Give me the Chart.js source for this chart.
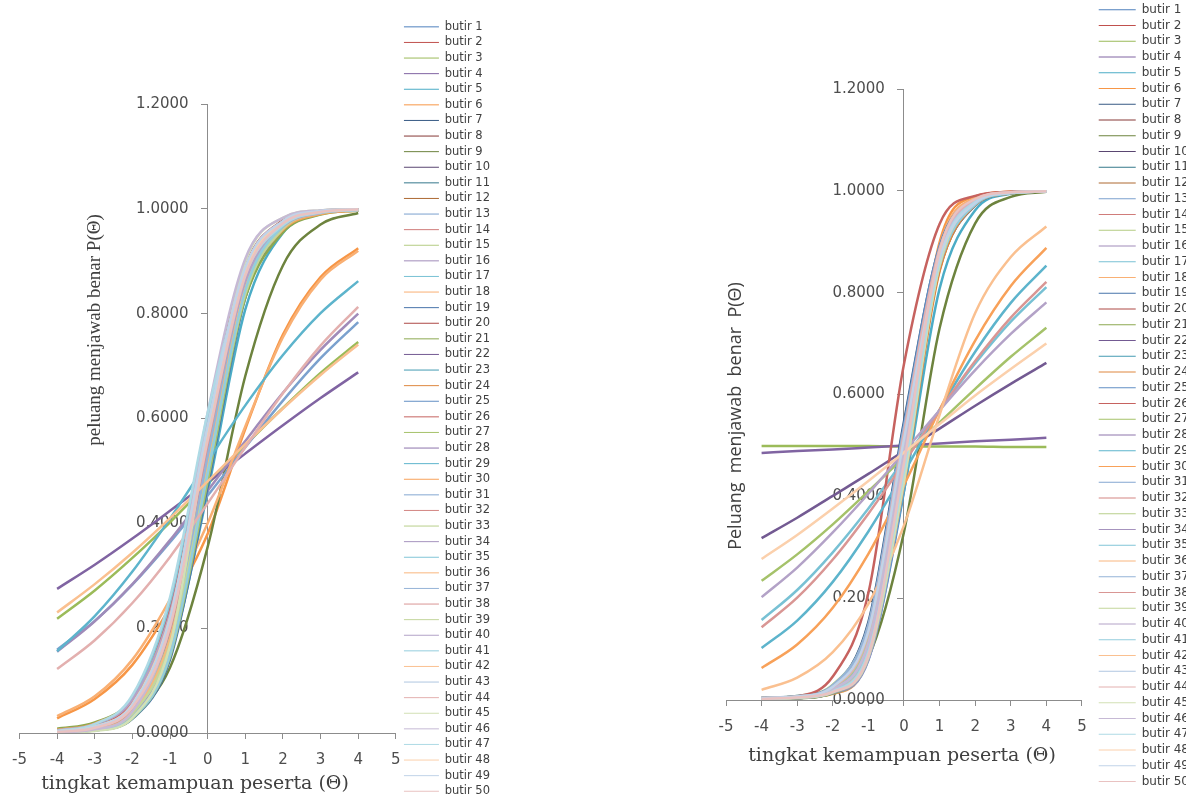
<!DOCTYPE html>
<html>
<head>
<meta charset="utf-8">
<script src="https://cdn.jsdelivr.net/npm/chart.js@4.4.1/dist/chart.umd.min.js"></script>
<style>
  html, body { margin: 0; padding: 0; background: #fff; overflow: hidden; width: 1186px; height: 796px; }
  #left { position: absolute; left: 0; top: 0; }
  #right { position: absolute; left: 600px; top: 0; }
</style>
</head>
<body>
<canvas id="left" width="500" height="830"></canvas>
<canvas id="right" width="599" height="830"></canvas>
<script>
const theta = [-4, -3, -2, -1, 0, 1, 2, 3, 4];
const thetaRange = [-5, 5];
const pRange = [0, 1.2];
const items = Array.from({ length: 50 }, (_, i) => 'butir ' + (i + 1));

// left chart, butir 1..50
const pLeft = [
  [0.001, 0.007, 0.035, 0.166, 0.521, 0.856, 0.970, 0.994, 0.999],
  [0.001, 0.007, 0.036, 0.163, 0.512, 0.852, 0.969, 0.994, 0.999],
  [0.218, 0.272, 0.334, 0.402, 0.475, 0.549, 0.620, 0.687, 0.746],
  [0.275, 0.321, 0.371, 0.424, 0.478, 0.533, 0.587, 0.639, 0.688],
  [0.001, 0.007, 0.034, 0.147, 0.460, 0.808, 0.954, 0.990, 0.998],
  [0.028, 0.065, 0.130, 0.240, 0.380, 0.580, 0.760, 0.870, 0.925],
  [0.003, 0.009, 0.042, 0.188, 0.538, 0.858, 0.969, 0.993, 0.998],
  [0.004, 0.013, 0.056, 0.222, 0.575, 0.872, 0.972, 0.994, 0.999],
  [0.002, 0.009, 0.035, 0.125, 0.355, 0.681, 0.892, 0.970, 0.992],
  [0.002, 0.009, 0.045, 0.190, 0.540, 0.860, 0.970, 0.994, 0.999],
  [0.002, 0.008, 0.040, 0.176, 0.508, 0.843, 0.965, 0.993, 0.998],
  [0.002, 0.008, 0.038, 0.175, 0.500, 0.835, 0.963, 0.992, 0.998],
  [0.159, 0.214, 0.283, 0.364, 0.453, 0.545, 0.634, 0.715, 0.784],
  [0.001, 0.006, 0.030, 0.150, 0.490, 0.840, 0.968, 0.994, 0.999],
  [0.005, 0.015, 0.060, 0.230, 0.560, 0.850, 0.962, 0.991, 0.998],
  [0.155, 0.213, 0.284, 0.368, 0.462, 0.557, 0.649, 0.731, 0.800],
  [0.002, 0.010, 0.048, 0.200, 0.550, 0.870, 0.972, 0.994, 0.999],
  [0.032, 0.070, 0.140, 0.255, 0.400, 0.585, 0.755, 0.865, 0.920],
  [0.001, 0.005, 0.027, 0.140, 0.470, 0.830, 0.962, 0.992, 0.998],
  [0.003, 0.013, 0.058, 0.235, 0.600, 0.890, 0.978, 0.996, 0.999],
  [0.008, 0.020, 0.065, 0.210, 0.520, 0.830, 0.955, 0.989, 0.997],
  [0.002, 0.009, 0.044, 0.185, 0.530, 0.855, 0.968, 0.993, 0.998],
  [0.001, 0.006, 0.033, 0.160, 0.510, 0.850, 0.969, 0.994, 0.999],
  [0.003, 0.011, 0.050, 0.205, 0.565, 0.875, 0.974, 0.995, 0.999],
  [0.002, 0.008, 0.040, 0.180, 0.525, 0.850, 0.966, 0.993, 0.998],
  [0.004, 0.014, 0.062, 0.240, 0.590, 0.880, 0.973, 0.994, 0.999],
  [0.001, 0.005, 0.028, 0.145, 0.480, 0.835, 0.965, 0.993, 0.998],
  [0.002, 0.010, 0.046, 0.195, 0.545, 0.865, 0.971, 0.994, 0.999],
  [0.156, 0.223, 0.308, 0.409, 0.518, 0.625, 0.721, 0.801, 0.862],
  [0.006, 0.018, 0.066, 0.225, 0.545, 0.845, 0.960, 0.990, 0.997],
  [0.001, 0.006, 0.032, 0.155, 0.505, 0.848, 0.968, 0.994, 0.999],
  [0.003, 0.012, 0.053, 0.215, 0.570, 0.878, 0.974, 0.995, 0.999],
  [0.002, 0.009, 0.043, 0.182, 0.515, 0.842, 0.964, 0.992, 0.998],
  [0.001, 0.007, 0.036, 0.170, 0.535, 0.868, 0.974, 0.995, 0.999],
  [0.004, 0.016, 0.068, 0.250, 0.600, 0.878, 0.970, 0.993, 0.998],
  [0.002, 0.008, 0.039, 0.178, 0.518, 0.850, 0.967, 0.993, 0.998],
  [0.001, 0.005, 0.031, 0.158, 0.528, 0.870, 0.976, 0.996, 0.999],
  [0.003, 0.010, 0.047, 0.198, 0.552, 0.868, 0.971, 0.994, 0.999],
  [0.002, 0.007, 0.037, 0.168, 0.498, 0.838, 0.962, 0.992, 0.998],
  [0.005, 0.017, 0.064, 0.228, 0.565, 0.862, 0.966, 0.992, 0.998],
  [0.001, 0.006, 0.029, 0.148, 0.495, 0.845, 0.967, 0.994, 0.999],
  [0.230, 0.284, 0.344, 0.410, 0.480, 0.551, 0.619, 0.683, 0.741],
  [0.002, 0.011, 0.051, 0.212, 0.575, 0.884, 0.976, 0.995, 0.999],
  [0.122, 0.177, 0.248, 0.336, 0.438, 0.545, 0.648, 0.739, 0.813],
  [0.001, 0.004, 0.029, 0.166, 0.571, 0.899, 0.983, 0.997, 0.999],
  [0.001, 0.007, 0.041, 0.206, 0.611, 0.905, 0.983, 0.997, 0.999],
  [0.004, 0.017, 0.072, 0.259, 0.611, 0.875, 0.969, 0.993, 0.998],
  [0.003, 0.012, 0.055, 0.220, 0.580, 0.880, 0.975, 0.995, 0.999],
  [0.003, 0.012, 0.054, 0.218, 0.585, 0.888, 0.977, 0.996, 0.999],
  [0.002, 0.010, 0.049, 0.203, 0.558, 0.872, 0.972, 0.994, 0.999]
];

// right chart, butir 1..50
const pRight = [
  [0.003, 0.005, 0.015, 0.080, 0.410, 0.860, 0.980, 0.997, 0.999],
  [0.003, 0.005, 0.020, 0.120, 0.500, 0.880, 0.982, 0.997, 0.999],
  [0.499, 0.499, 0.499, 0.499, 0.498, 0.498, 0.498, 0.497, 0.497],
  [0.485, 0.489, 0.492, 0.496, 0.500, 0.504, 0.508, 0.511, 0.515],
  [0.003, 0.006, 0.022, 0.103, 0.411, 0.808, 0.962, 0.994, 0.999],
  [0.002, 0.004, 0.012, 0.082, 0.471, 0.899, 0.989, 0.998, 0.999],
  [0.004, 0.007, 0.028, 0.153, 0.547, 0.890, 0.982, 0.997, 0.999],
  [0.003, 0.005, 0.018, 0.095, 0.440, 0.855, 0.976, 0.996, 0.999],
  [0.001, 0.003, 0.016, 0.083, 0.330, 0.730, 0.936, 0.988, 0.998],
  [0.002, 0.004, 0.014, 0.088, 0.455, 0.875, 0.982, 0.997, 0.999],
  [0.004, 0.007, 0.025, 0.130, 0.515, 0.875, 0.978, 0.996, 0.999],
  [0.003, 0.006, 0.021, 0.110, 0.460, 0.845, 0.972, 0.995, 0.999],
  [0.002, 0.004, 0.013, 0.078, 0.420, 0.865, 0.982, 0.997, 0.999],
  [0.003, 0.005, 0.019, 0.105, 0.480, 0.872, 0.980, 0.997, 0.999],
  [0.004, 0.008, 0.030, 0.145, 0.520, 0.862, 0.974, 0.995, 0.999],
  [0.003, 0.005, 0.017, 0.092, 0.430, 0.850, 0.975, 0.996, 0.999],
  [0.157, 0.216, 0.290, 0.376, 0.472, 0.569, 0.661, 0.743, 0.811],
  [0.002, 0.005, 0.016, 0.098, 0.490, 0.892, 0.986, 0.998, 0.999],
  [0.003, 0.006, 0.023, 0.118, 0.470, 0.848, 0.971, 0.995, 0.999],
  [0.004, 0.007, 0.026, 0.138, 0.530, 0.882, 0.980, 0.997, 0.999],
  [0.002, 0.004, 0.013, 0.085, 0.445, 0.870, 0.981, 0.997, 0.999],
  [0.318, 0.358, 0.401, 0.444, 0.489, 0.533, 0.578, 0.621, 0.662],
  [0.003, 0.006, 0.020, 0.112, 0.495, 0.878, 0.981, 0.997, 0.999],
  [0.003, 0.005, 0.018, 0.090, 0.425, 0.842, 0.972, 0.995, 0.999],
  [0.004, 0.008, 0.027, 0.140, 0.540, 0.892, 0.983, 0.997, 0.999],
  [0.001, 0.007, 0.046, 0.210, 0.660, 0.935, 0.990, 0.998, 0.999],
  [0.234, 0.286, 0.345, 0.410, 0.477, 0.545, 0.611, 0.674, 0.731],
  [0.002, 0.005, 0.015, 0.086, 0.450, 0.866, 0.979, 0.996, 0.999],
  [0.102, 0.156, 0.232, 0.331, 0.447, 0.570, 0.684, 0.780, 0.853],
  [0.063, 0.109, 0.181, 0.287, 0.422, 0.570, 0.706, 0.813, 0.888],
  [0.003, 0.006, 0.022, 0.115, 0.475, 0.858, 0.975, 0.996, 0.999],
  [0.003, 0.005, 0.017, 0.094, 0.462, 0.872, 0.981, 0.997, 0.999],
  [0.004, 0.007, 0.024, 0.126, 0.505, 0.870, 0.977, 0.996, 0.999],
  [0.002, 0.004, 0.014, 0.080, 0.435, 0.862, 0.980, 0.997, 0.999],
  [0.003, 0.006, 0.021, 0.108, 0.468, 0.862, 0.976, 0.996, 0.999],
  [0.003, 0.005, 0.019, 0.100, 0.485, 0.884, 0.983, 0.997, 0.999],
  [0.004, 0.007, 0.029, 0.148, 0.535, 0.878, 0.977, 0.996, 0.999],
  [0.143, 0.201, 0.276, 0.366, 0.466, 0.569, 0.666, 0.751, 0.821],
  [0.002, 0.005, 0.016, 0.090, 0.442, 0.858, 0.977, 0.996, 0.999],
  [0.202, 0.260, 0.329, 0.405, 0.487, 0.569, 0.648, 0.719, 0.781],
  [0.003, 0.006, 0.020, 0.106, 0.458, 0.852, 0.973, 0.995, 0.999],
  [0.020, 0.044, 0.094, 0.189, 0.343, 0.560, 0.760, 0.870, 0.930],
  [0.003, 0.005, 0.018, 0.097, 0.478, 0.880, 0.982, 0.997, 0.999],
  [0.004, 0.007, 0.025, 0.132, 0.525, 0.886, 0.981, 0.997, 0.999],
  [0.002, 0.004, 0.015, 0.084, 0.428, 0.855, 0.978, 0.996, 0.999],
  [0.003, 0.006, 0.021, 0.112, 0.488, 0.874, 0.979, 0.996, 0.999],
  [0.003, 0.005, 0.017, 0.093, 0.448, 0.864, 0.978, 0.996, 0.999],
  [0.277, 0.324, 0.376, 0.430, 0.486, 0.542, 0.598, 0.650, 0.700],
  [0.004, 0.007, 0.026, 0.135, 0.512, 0.868, 0.976, 0.996, 0.999],
  [0.002, 0.005, 0.016, 0.088, 0.465, 0.882, 0.984, 0.997, 0.999]
];

// office-style series colours: six accents, then darker / lighter rounds
const accents = ['#4F81BD', '#C0504D', '#9BBB59', '#8064A2', '#4BACC6', '#F79646'];
const rounds = [0, -0.3, 0.25, -0.1, 0.1, 0.3, 0.4, 0.55, 0.65];
function tone(hex, f) {
  const n = parseInt(hex.slice(1), 16);
  const c = [n >> 16, (n >> 8) & 255, n & 255]
    .map(v => Math.round(f < 0 ? v * (1 + f) : v + (255 - v) * f));
  return 'rgb(' + c.join(',') + ')';
}
const colors = items.map((_, i) => tone(accents[i % 6], rounds[Math.floor(i / 6)]));

const axisText = {
  left: [
    { text: 'tingkat kemampuan peserta (\u0398)', x: 195, y: 784, font: '19px "DejaVu Serif"' },
    { text: 'peluang menjawab benar P(\u0398)', x: 95, y: 330, font: '19px "Liberation Serif"', rotate: true }
  ],
  right: [
    { text: 'tingkat kemampuan peserta (\u0398)', x: 302, y: 756, font: '19px "DejaVu Serif"' },
    { text: 'Peluang  menjawab  benar  P(\u0398)', x: 136, y: 416, font: '18px "Open Sans"', rotate: true }
  ]
};

const axisTitles = {
  id: 'axisTitles',
  afterDraw(chart) {
    const ctx = chart.ctx;
    (axisText[chart.canvas.id] || []).forEach(t => {
      ctx.save();
      ctx.font = t.font;
      ctx.fillStyle = '#404040';
      ctx.textAlign = 'center';
      ctx.textBaseline = 'middle';
      ctx.translate(t.x, t.y);
      if (t.rotate) ctx.rotate(-Math.PI / 2);
      ctx.fillText(t.text, 0, 0);
      ctx.restore();
    });
  }
};

// the y axis sits at theta = 0, so its labels get a small right-hand gap
const yLabel = v => v.toFixed(4) + '\u00a0\u00a0\u00a0\u00a0';

function makeChart(id, curves, L) {
  return new Chart(document.getElementById(id), {
    type: 'line',
    data: {
      datasets: curves.map((row, i) => ({
        label: items[i],
        data: row.map((p, j) => ({ x: theta[j], y: p })),
        borderColor: colors[i],
        backgroundColor: colors[i],
        borderWidth: 2.5,
        pointRadius: 0,
        cubicInterpolationMode: 'monotone',
        order: curves.length - i
      }))
    },
    options: {
      responsive: false,
      animation: false,
      layout: { padding: { left: L.padLeft, top: L.padTop, right: 0, bottom: 0 } },
      scales: {
        x: {
          type: 'linear', position: 'bottom', min: thetaRange[0], max: thetaRange[1],
          ticks: { stepSize: 1, padding: 12, color: '#4d4d4d', font: { family: 'DejaVu Sans', size: 15 }, maxRotation: 0 },
          grid: { drawOnChartArea: false, tickLength: 6, color: '#8c8c8c' },
          border: { color: '#8c8c8c' },
          afterFit: s => { s.height = L.xAxisHeight; }
        },
        y: {
          type: 'linear', position: { x: 0 }, min: pRange[0], max: pRange[1],
          ticks: { stepSize: 0.2, color: '#4d4d4d', font: { family: 'DejaVu Sans', size: 15 }, callback: yLabel },
          grid: { drawOnChartArea: false, tickLength: 6, color: '#8c8c8c' },
          border: { color: '#8c8c8c' },
          afterFit: s => { s.width = 0; }
        },
        gap: {
          type: 'linear', position: 'right',
          grid: { display: false }, border: { display: false }, ticks: { display: false },
          afterFit: s => { s.width = L.gap; }
        }
      },
      plugins: {
        title: { display: true, text: '', position: 'top', fullSize: false, font: { size: 1 },
                 padding: { top: L.spacer, bottom: 0 } },
        legend: {
          position: 'right', align: 'start', maxWidth: 300,
          labels: {
            usePointStyle: true, pointStyle: 'line', pointStyleWidth: L.lineLen,
            padding: L.legendPad, color: '#404040',
            font: { family: 'DejaVu Sans', size: L.legendFont },
            generateLabels: chart => Chart.defaults.plugins.legend.labels.generateLabels(chart)
              .map(it => Object.assign(it, { lineWidth: 1, pointStyle: 'line' })),
            sort: (a, b) => a.datasetIndex - b.datasetIndex
          }
        },
        tooltip: { enabled: false }
      }
    },
    plugins: [axisTitles]
  });
}

makeChart('left', pLeft, { padLeft: 18, padTop: 17, spacer: 85.8, xAxisHeight: 97, gap: 4,
  lineLen: 35, legendPad: 4.1, legendFont: 11.5 });
makeChart('right', pRight, { padLeft: 126, padTop: 0, spacer: 87.8, xAxisHeight: 130, gap: 13,
  lineLen: 37, legendPad: 3.75, legendFont: 12 });
</script>
</body>
</html>
